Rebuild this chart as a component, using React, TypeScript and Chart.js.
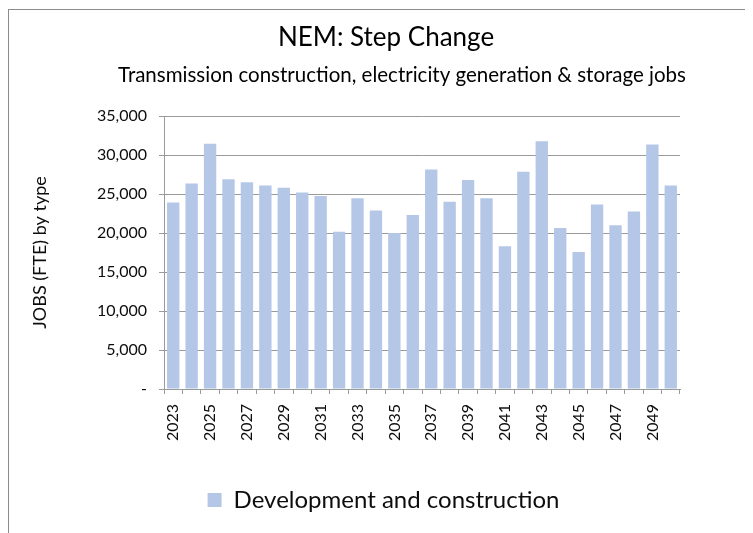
import { useEffect, useRef } from "react";
import { Chart, registerables } from "chart.js";

Chart.register(...registerables);

const chartTitle = "NEM: Step Change";
const chartSubtitle = "Transmission construction, electricity generation & storage jobs";
const yAxisTitle = "JOBS (FTE) by type";
const seriesName = "Development and construction";

const years = [
  "2023", "2024", "2025", "2026", "2027", "2028", "2029", "2030", "2031", "2032",
  "2033", "2034", "2035", "2036", "2037", "2038", "2039", "2040", "2041", "2042",
  "2043", "2044", "2045", "2046", "2047", "2048", "2049", "2050",
];

const developmentAndConstruction = [
  23900, 26350, 31450, 26900, 26500, 26100, 25800, 25200, 24750, 20150,
  24450, 22900, 20000, 22300, 28150, 24000, 26800, 24450, 18300, 27850,
  31750, 20650, 17550, 23650, 21000, 22750, 31350, 26100,
];

const yMin = 0;
const yMax = 35000;
const yStep = 5000;

const FONT = "Lato, 'Open Sans', sans-serif";
const TEXT = "#0d0d0d";
const GRID = "#9a9a9a";
const BAR = "#b4c7e7";

const titlesPlugin = {
  id: "customTitles",
  afterDraw(chart: any) {
    const ctx = chart.ctx;
    ctx.save();
    ctx.fillStyle = "#000";
    ctx.textAlign = "center";
    ctx.textBaseline = "middle";
    ctx.font = `26px ${FONT}`;
    ctx.fillText(chartTitle, 377, 28);
    ctx.font = `20.5px ${FONT}`;
    ctx.fillText(chartSubtitle, 393, 65);
    ctx.restore();
  },
};

export default function App() {
  const ref = useRef<HTMLCanvasElement>(null);

  useEffect(() => {
    if (!ref.current) return;
    const chart = new Chart(ref.current, {
      type: "bar",
      data: {
        labels: years,
        datasets: [
          {
            label: seriesName,
            data: developmentAndConstruction,
            backgroundColor: BAR,
            borderWidth: 0,
            barPercentage: 0.67,
            categoryPercentage: 1,
            yAxisID: "y",
          },
        ],
      },
      options: {
        responsive: false,
        animation: false,
        devicePixelRatio: 1,
        layout: { padding: { top: 106, right: 0, bottom: 11, left: 10 } },
        plugins: {
          title: { display: false },
          tooltip: { enabled: false },
          legend: {
            position: "bottom",
            labels: {
              boxWidth: 14,
              boxHeight: 14,
              padding: 10,
              color: TEXT,
              font: { family: FONT, size: 24 },
            },
          },
        },
        scales: {
          x: {
            offset: true,
            grid: {
              display: true,
              drawOnChartArea: false,
              drawTicks: true,
              tickLength: 5,
              color: GRID,
              offset: true,
            },
            border: { display: true, color: GRID },
            ticks: {
              autoSkip: false,
              maxRotation: 90,
              minRotation: 90,
              padding: 10,
              color: TEXT,
              font: { family: FONT, size: 16 },
              callback: (_v: any, i: number) => (i % 2 === 0 ? years[i] : ""),
            },
            afterFit: (s: any) => {
              s.height = 89;
            },
          },
          y: {
            position: "left",
            min: yMin,
            max: yMax,
            grid: { color: GRID, tickLength: 5 },
            border: { display: true, color: GRID },
            ticks: {
              stepSize: yStep,
              padding: 12,
              color: TEXT,
              font: { family: FONT, size: 16 },
              callback: (v: any) => (Number(v) === 0 ? "-" : Number(v).toLocaleString("en-US")),
            },
            title: {
              display: true,
              text: yAxisTitle,
              color: TEXT,
              font: { family: FONT, size: 18 },
              padding: { top: 10, bottom: 0 },
            },
            afterFit: (s: any) => {
              s.width = 145;
            },
          },
          yRightSpace: {
            position: "right",
            display: true,
            min: yMin,
            max: yMax,
            grid: { display: false, drawTicks: false },
            border: { display: false },
            ticks: { display: false },
            afterFit: (s: any) => {
              s.width = 68;
            },
          },
        },
      },
      plugins: [titlesPlugin],
    });
    return () => chart.destroy();
  }, []);

  return (
    <div
      style={{
        marginTop: 1,
        width: 741,
        height: 525,
        boxSizing: "border-box",
        border: "1px solid #8c8c8c",
        borderBottom: "none",
        background: "#fff",
      }}
    >
      <canvas ref={ref} width={739} height={523} style={{ display: "block" }} />
    </div>
  );
}
